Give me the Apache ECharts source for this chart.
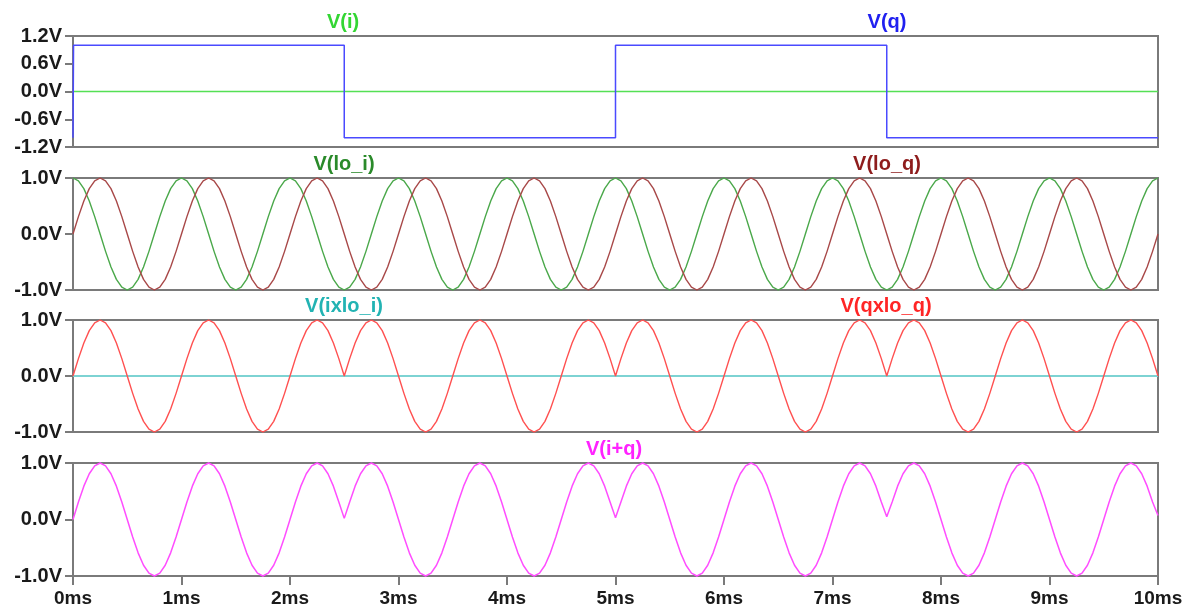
<!DOCTYPE html>
<html>
<head>
<meta charset="utf-8">
<script src="https://cdn.jsdelivr.net/npm/echarts@6/dist/echarts.min.js"></script>
<style>
html,body{margin:0;padding:0;background:#fff;}
#chart{width:1192px;height:608px;}
</style>
</head>
<body>
<div id="chart"></div>
<script>
// ---- data (time in ms, values in V) ----
const times = [
0,0.05,0.1,0.15,0.2,0.25,0.3,0.35,0.4,0.45,0.5,0.55,0.6,0.65,0.7,0.75,0.8,0.85,0.9,0.95,
1,1.05,1.1,1.15,1.2,1.25,1.3,1.35,1.4,1.45,1.5,1.55,1.6,1.65,1.7,1.75,1.8,1.85,1.9,1.95,
2,2.05,2.1,2.15,2.2,2.25,2.3,2.35,2.4,2.45,2.5,2.55,2.6,2.65,2.7,2.75,2.8,2.85,2.9,2.95,
3,3.05,3.1,3.15,3.2,3.25,3.3,3.35,3.4,3.45,3.5,3.55,3.6,3.65,3.7,3.75,3.8,3.85,3.9,3.95,
4,4.05,4.1,4.15,4.2,4.25,4.3,4.35,4.4,4.45,4.5,4.55,4.6,4.65,4.7,4.75,4.8,4.85,4.9,4.95,
5,5.05,5.1,5.15,5.2,5.25,5.3,5.35,5.4,5.45,5.5,5.55,5.6,5.65,5.7,5.75,5.8,5.85,5.9,5.95,
6,6.05,6.1,6.15,6.2,6.25,6.3,6.35,6.4,6.45,6.5,6.55,6.6,6.65,6.7,6.75,6.8,6.85,6.9,6.95,
7,7.05,7.1,7.15,7.2,7.25,7.3,7.35,7.4,7.45,7.5,7.55,7.6,7.65,7.7,7.75,7.8,7.85,7.9,7.95,
8,8.05,8.1,8.15,8.2,8.25,8.3,8.35,8.4,8.45,8.5,8.55,8.6,8.65,8.7,8.75,8.8,8.85,8.9,8.95,
9,9.05,9.1,9.15,9.2,9.25,9.3,9.35,9.4,9.45,9.5,9.55,9.6,9.65,9.7,9.75,9.8,9.85,9.9,9.95,
10];

const flatTimes = [0, 10];
const vI = [0, 0];
const vIxLoI = [0, 0];

const qTimes = [0, 0.005, 2.5, 2.5, 5, 5, 7.5, 7.5, 10];
const vQ = [-1, 1, 1, -1, -1, 1, 1, -1, -1];

const vLoI = [
1,0.95,0.81,0.59,0.31,0,-0.31,-0.59,-0.81,-0.95,-1,-0.95,-0.81,-0.59,-0.31,0,0.31,0.59,0.81,0.95,
1,0.95,0.81,0.59,0.31,0,-0.31,-0.59,-0.81,-0.95,-1,-0.95,-0.81,-0.59,-0.31,0,0.31,0.59,0.81,0.95,
1,0.95,0.81,0.59,0.31,0,-0.31,-0.59,-0.81,-0.95,-1,-0.95,-0.81,-0.59,-0.31,0,0.31,0.59,0.81,0.95,
1,0.95,0.81,0.59,0.31,0,-0.31,-0.59,-0.81,-0.95,-1,-0.95,-0.81,-0.59,-0.31,0,0.31,0.59,0.81,0.95,
1,0.95,0.81,0.59,0.31,0,-0.31,-0.59,-0.81,-0.95,-1,-0.95,-0.81,-0.59,-0.31,0,0.31,0.59,0.81,0.95,
1,0.95,0.81,0.59,0.31,0,-0.31,-0.59,-0.81,-0.95,-1,-0.95,-0.81,-0.59,-0.31,0,0.31,0.59,0.81,0.95,
1,0.95,0.81,0.59,0.31,0,-0.31,-0.59,-0.81,-0.95,-1,-0.95,-0.81,-0.59,-0.31,0,0.31,0.59,0.81,0.95,
1,0.95,0.81,0.59,0.31,0,-0.31,-0.59,-0.81,-0.95,-1,-0.95,-0.81,-0.59,-0.31,0,0.31,0.59,0.81,0.95,
1,0.95,0.81,0.59,0.31,0,-0.31,-0.59,-0.81,-0.95,-1,-0.95,-0.81,-0.59,-0.31,0,0.31,0.59,0.81,0.95,
1,0.95,0.81,0.59,0.31,0,-0.31,-0.59,-0.81,-0.95,-1,-0.95,-0.81,-0.59,-0.31,0,0.31,0.59,0.81,0.95,
1];

const vLoQ = [
0,0.31,0.59,0.81,0.95,1,0.95,0.81,0.59,0.31,0,-0.31,-0.59,-0.81,-0.95,-1,-0.95,-0.81,-0.59,-0.31,
0,0.31,0.59,0.81,0.95,1,0.95,0.81,0.59,0.31,0,-0.31,-0.59,-0.81,-0.95,-1,-0.95,-0.81,-0.59,-0.31,
0,0.31,0.59,0.81,0.95,1,0.95,0.81,0.59,0.31,0,-0.31,-0.59,-0.81,-0.95,-1,-0.95,-0.81,-0.59,-0.31,
0,0.31,0.59,0.81,0.95,1,0.95,0.81,0.59,0.31,0,-0.31,-0.59,-0.81,-0.95,-1,-0.95,-0.81,-0.59,-0.31,
0,0.31,0.59,0.81,0.95,1,0.95,0.81,0.59,0.31,0,-0.31,-0.59,-0.81,-0.95,-1,-0.95,-0.81,-0.59,-0.31,
0,0.31,0.59,0.81,0.95,1,0.95,0.81,0.59,0.31,0,-0.31,-0.59,-0.81,-0.95,-1,-0.95,-0.81,-0.59,-0.31,
0,0.31,0.59,0.81,0.95,1,0.95,0.81,0.59,0.31,0,-0.31,-0.59,-0.81,-0.95,-1,-0.95,-0.81,-0.59,-0.31,
0,0.31,0.59,0.81,0.95,1,0.95,0.81,0.59,0.31,0,-0.31,-0.59,-0.81,-0.95,-1,-0.95,-0.81,-0.59,-0.31,
0,0.31,0.59,0.81,0.95,1,0.95,0.81,0.59,0.31,0,-0.31,-0.59,-0.81,-0.95,-1,-0.95,-0.81,-0.59,-0.31,
0,0.31,0.59,0.81,0.95,1,0.95,0.81,0.59,0.31,0,-0.31,-0.59,-0.81,-0.95,-1,-0.95,-0.81,-0.59,-0.31,
0];

const vQxLoQ = [
0,0.31,0.59,0.81,0.95,1,0.95,0.81,0.59,0.31,0,-0.31,-0.59,-0.81,-0.95,-1,-0.95,-0.81,-0.59,-0.31,
0,0.31,0.59,0.81,0.95,1,0.95,0.81,0.59,0.31,0,-0.31,-0.59,-0.81,-0.95,-1,-0.95,-0.81,-0.59,-0.31,
0,0.31,0.59,0.81,0.95,1,0.95,0.81,0.59,0.31,0,0.31,0.59,0.81,0.95,1,0.95,0.81,0.59,0.31,
0,-0.31,-0.59,-0.81,-0.95,-1,-0.95,-0.81,-0.59,-0.31,0,0.31,0.59,0.81,0.95,1,0.95,0.81,0.59,0.31,
0,-0.31,-0.59,-0.81,-0.95,-1,-0.95,-0.81,-0.59,-0.31,0,0.31,0.59,0.81,0.95,1,0.95,0.81,0.59,0.31,
0,0.31,0.59,0.81,0.95,1,0.95,0.81,0.59,0.31,0,-0.31,-0.59,-0.81,-0.95,-1,-0.95,-0.81,-0.59,-0.31,
0,0.31,0.59,0.81,0.95,1,0.95,0.81,0.59,0.31,0,-0.31,-0.59,-0.81,-0.95,-1,-0.95,-0.81,-0.59,-0.31,
0,0.31,0.59,0.81,0.95,1,0.95,0.81,0.59,0.31,0,0.31,0.59,0.81,0.95,1,0.95,0.81,0.59,0.31,
0,-0.31,-0.59,-0.81,-0.95,-1,-0.95,-0.81,-0.59,-0.31,0,0.31,0.59,0.81,0.95,1,0.95,0.81,0.59,0.31,
0,-0.31,-0.59,-0.81,-0.95,-1,-0.95,-0.81,-0.59,-0.31,0,0.31,0.59,0.81,0.95,1,0.95,0.81,0.59,0.31,
0];

const vIplusQ = [
0,0.31,0.59,0.81,0.95,1,0.95,0.81,0.59,0.31,0,-0.31,-0.59,-0.81,-0.95,-1,-0.95,-0.81,-0.59,-0.31,
0,0.31,0.59,0.81,0.95,1,0.95,0.81,0.59,0.31,0,-0.31,-0.59,-0.81,-0.95,-1,-0.95,-0.81,-0.59,-0.31,
0,0.31,0.59,0.81,0.95,1,0.95,0.81,0.59,0.31,0.02,0.31,0.59,0.81,0.95,1,0.95,0.81,0.59,0.31,
0,-0.31,-0.59,-0.81,-0.95,-1,-0.95,-0.81,-0.59,-0.31,0,0.31,0.59,0.81,0.95,1,0.95,0.81,0.59,0.31,
0,-0.31,-0.59,-0.81,-0.95,-1,-0.95,-0.81,-0.59,-0.31,0,0.31,0.59,0.81,0.95,1,0.95,0.81,0.59,0.31,
0.03,0.31,0.59,0.81,0.95,1,0.95,0.81,0.59,0.31,0,-0.31,-0.59,-0.81,-0.95,-1,-0.95,-0.81,-0.59,-0.31,
0,0.31,0.59,0.81,0.95,1,0.95,0.81,0.59,0.31,0,-0.31,-0.59,-0.81,-0.95,-1,-0.95,-0.81,-0.59,-0.31,
0,0.31,0.59,0.81,0.95,1,0.95,0.81,0.59,0.31,0.05,0.31,0.59,0.81,0.95,1,0.95,0.81,0.59,0.31,
0,-0.31,-0.59,-0.81,-0.95,-1,-0.95,-0.81,-0.59,-0.31,0,0.31,0.59,0.81,0.95,1,0.95,0.81,0.59,0.31,
0,-0.31,-0.59,-0.81,-0.95,-1,-0.95,-0.81,-0.59,-0.31,0,0.31,0.59,0.81,0.95,1,0.95,0.81,0.59,0.31,
0.07];

const xTickLabels = ['0ms','1ms','2ms','3ms','4ms','5ms','6ms','7ms','8ms','9ms','10ms'];
const traceNames = ['V(i)','V(q)','V(lo_i)','V(lo_q)','V(ixlo_i)','V(qxlo_q)','V(i+q)'];

// ---- layout / style ----
const FONT = '"Liberation Sans", Arial, sans-serif';
const LEFT = 73, RIGHT = 34;
const panes = [
  {top: 36, height: 111, min: -1.2, max: 1.2, interval: 0.6},
  {top: 178, height: 112, min: -1, max: 1, interval: 1},
  {top: 320, height: 112, min: -1, max: 1, interval: 1},
  {top: 463, height: 113, min: -1, max: 1, interval: 1}
];
const FRAME = '#7a7a7a';
const TEXT = '#1a1a1a';

const grids = panes.map(p => ({
  left: LEFT, right: RIGHT, top: p.top, height: p.height,
  show: true, borderColor: FRAME, borderWidth: 2, backgroundColor: 'transparent'
}));

const xAxes = panes.map((p, i) => {
  const last = i === panes.length - 1;
  return {
    type: 'value', gridIndex: i, min: 0, max: 10, interval: 1, position: 'bottom',
    axisLine: {show: false, onZero: false},
    splitLine: {show: false},
    axisTick: {show: last, inside: false, length: 9, lineStyle: {color: FRAME, width: 2}},
    axisLabel: {
      show: last, margin: 13, color: TEXT, fontFamily: FONT, fontWeight: 'bold', fontSize: 19,
      formatter: v => xTickLabels[Math.round(v)]
    }
  };
});

const yAxes = panes.map((p, i) => ({
  type: 'value', gridIndex: i, min: p.min, max: p.max, interval: p.interval, position: 'left',
  axisLine: {show: false, onZero: false},
  splitLine: {show: false},
  axisTick: {show: true, length: 8, lineStyle: {color: FRAME, width: 2}},
  axisLabel: {
    margin: 11, color: TEXT, fontFamily: FONT, fontWeight: 'bold', fontSize: 20,
    formatter: v => v.toFixed(1) + 'V'
  }
}));

function pairs(xs, ys) { return xs.map((x, k) => [x, ys[k]]); }
function line(name, idx, xs, ys, color, width) {
  return {
    name, type: 'line', xAxisIndex: idx, yAxisIndex: idx,
    data: pairs(xs, ys), showSymbol: false, symbol: 'none',
    lineStyle: {color, width}, itemStyle: {color},
    animation: false, silent: true, clip: false
  };
}

const series = [
  line(traceNames[0], 0, flatTimes, vI, '#55e055', 1.5),
  line(traceNames[1], 0, qTimes, vQ, '#4a4aff', 1.5),
  line(traceNames[2], 1, times, vLoI, '#4aa84a', 1.4),
  line(traceNames[3], 1, times, vLoQ, '#a84848', 1.4),
  line(traceNames[4], 2, flatTimes, vIxLoI, '#7dd3d3', 2.2),
  line(traceNames[5], 2, times, vQxLoQ, '#ff5050', 1.4),
  line(traceNames[6], 3, times, vIplusQ, '#ff4dff', 1.5)
];

const titleSpec = [
  {text: traceNames[0], x: 343, pane: 0, color: '#33d633'},
  {text: traceNames[1], x: 887, pane: 0, color: '#2020f0'},
  {text: traceNames[2], x: 344, pane: 1, color: '#2a8a2a'},
  {text: traceNames[3], x: 887, pane: 1, color: '#8e1c1c'},
  {text: traceNames[4], x: 344, pane: 2, color: '#22b3b3'},
  {text: traceNames[5], x: 886, pane: 2, color: '#ff2525'},
  {text: traceNames[6], x: 614, pane: 3, color: '#ff22ff'}
];
const graphics = titleSpec.map(t => ({
  type: 'text', x: t.x, y: panes[t.pane].top - 14, silent: true,
  style: {
    text: t.text, fill: t.color, textAlign: 'center', textVerticalAlign: 'middle',
    font: 'bold 20px ' + FONT
  }
}));

const chart = echarts.init(document.getElementById('chart'), null, {renderer: 'canvas'});
chart.setOption({
  animation: false,
  backgroundColor: '#ffffff',
  grid: grids,
  xAxis: xAxes,
  yAxis: yAxes,
  series,
  graphic: graphics
});
</script>
</body>
</html>
